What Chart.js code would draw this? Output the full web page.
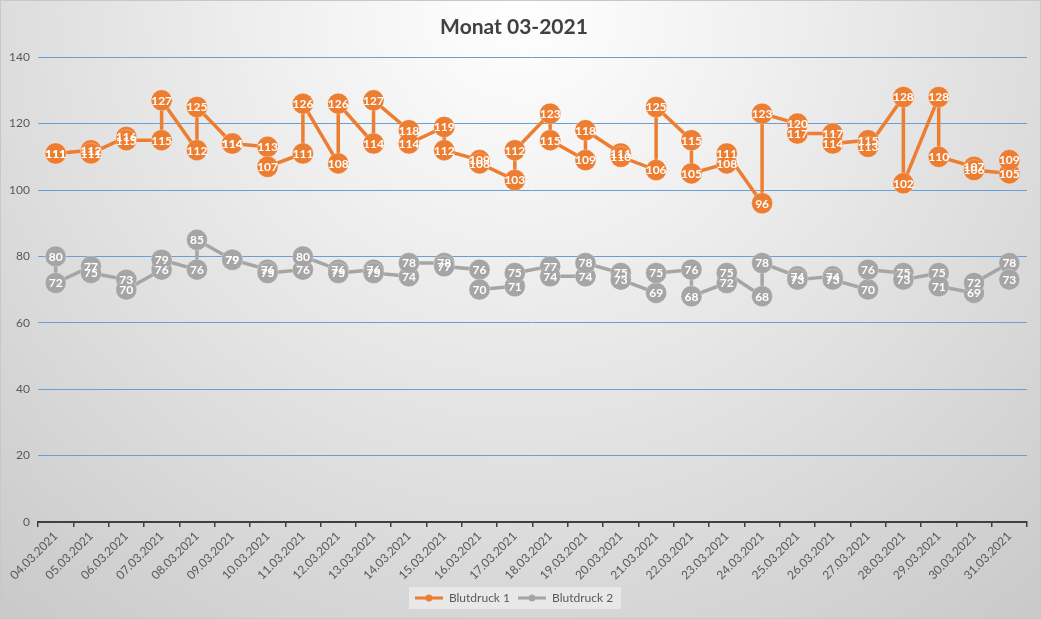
<!DOCTYPE html>
<html>
<head>
<meta charset="utf-8">
<script src="https://cdn.jsdelivr.net/npm/chart.js@4/dist/chart.umd.min.js"></script>
<style>
  html, body { margin: 0; padding: 0; }
  #wrap {
    width: 1041px; height: 619px; box-sizing: border-box;
    border: 1px solid #c8c8c8;
    background: radial-gradient(circle farthest-corner at 50% 0%, #ffffff 0%, #f1f1f1 28%, #c9c9c9 100%);
  }
  canvas { display: block; }
</style>
</head>
<body>
<div id="wrap"><canvas id="chart" width="1039" height="617"></canvas></div>
<script>
const dates = ['04.03.2021', '05.03.2021', '06.03.2021', '07.03.2021', '08.03.2021', '09.03.2021',
  '10.03.2021', '11.03.2021', '12.03.2021', '13.03.2021', '14.03.2021', '15.03.2021', '16.03.2021',
  '17.03.2021', '18.03.2021', '19.03.2021', '20.03.2021', '21.03.2021', '22.03.2021', '23.03.2021',
  '24.03.2021', '25.03.2021', '26.03.2021', '27.03.2021', '28.03.2021', '29.03.2021', '30.03.2021',
  '31.03.2021'];

// two readings per day, in the order they were taken
const blutdruck1 = [111, 111, 112, 111, 116, 115, 115, 127, 112, 125, 114, 114, 113, 107,
  111, 126, 108, 126, 114, 127, 118, 114, 119, 112, 109, 108, 103, 112, 123, 115, 109, 118,
  111, 110, 106, 125, 115, 105, 108, 111, 96, 123, 120, 117, 117, 114, 115, 113, 128, 102,
  128, 110, 107, 106, 105, 109];
const blutdruck2 = [80, 72, 77, 75, 73, 70, 76, 79, 76, 85, 79, 79, 76, 75, 76, 80, 76, 75,
  76, 75, 74, 78, 78, 77, 76, 70, 71, 75, 77, 74, 74, 78, 75, 73, 69, 75, 76, 68, 72, 75,
  68, 78, 74, 73, 74, 73, 70, 76, 75, 73, 75, 71, 69, 72, 78, 73];

const yTicks = [0, 20, 40, 60, 80, 100, 120, 140];

const orange = '#ED7D31';
const grey = '#A5A5A5';
const textGrey = '#595959';

Chart.defaults.font.family = 'Lato, "Open Sans", sans-serif';

// pair every reading with its day
function toPoints(values) {
  return values.map((v, i) => ({ x: dates[Math.floor(i / 2)], y: v }));
}

// legend marker: short line with a dot
function legendMarker(color) {
  const c = document.createElement('canvas');
  c.width = 28;
  c.height = 10;
  const g = c.getContext('2d');
  g.strokeStyle = color;
  g.lineWidth = 3;
  g.beginPath();
  g.moveTo(0, 5);
  g.lineTo(28, 5);
  g.stroke();
  g.fillStyle = color;
  g.beginPath();
  g.arc(14, 5, 3.5, 0, Math.PI * 2);
  g.fill();
  return c;
}

// white value text centred on each marker
const valueLabels = {
  id: 'valueLabels',
  afterDatasetsDraw(chart) {
    const ctx = chart.ctx;
    ctx.save();
    ctx.font = 'bold 12px Lato, "Open Sans", sans-serif';
    ctx.fillStyle = '#ffffff';
    ctx.textAlign = 'center';
    ctx.textBaseline = 'middle';
    chart.data.datasets.forEach((ds, di) => {
      chart.getDatasetMeta(di).data.forEach((pt, i) => {
        ctx.fillText(String(ds.data[i].y), pt.x, pt.y + 0.5);
      });
    });
    ctx.restore();
  }
};

// light box behind the legend entries
const legendBox = {
  id: 'legendBox',
  beforeDraw(chart) {
    const boxes = chart.legend && chart.legend.legendHitBoxes;
    if (!boxes || !boxes.length) return;
    const first = boxes[0];
    const last = boxes[boxes.length - 1];
    const ctx = chart.ctx;
    ctx.save();
    ctx.fillStyle = 'rgba(235,235,235,0.85)';
    ctx.fillRect(first.left - 6, first.top - 5, last.left + last.width - first.left + 14, first.height + 10);
    ctx.restore();
  }
};

const ctx = document.getElementById('chart').getContext('2d');
new Chart(ctx, {
  type: 'line',
  data: {
    labels: dates,
    datasets: [
      {
        label: 'Blutdruck 1',
        data: toPoints(blutdruck1),
        borderColor: orange,
        backgroundColor: orange,
        borderWidth: 3.5,
        pointStyle: 'circle',
        pointRadius: 10.5,
        pointBackgroundColor: orange,
        pointBorderColor: 'rgba(255,255,255,0.25)',
        pointBorderWidth: 1
      },
      {
        label: 'Blutdruck 2',
        data: toPoints(blutdruck2),
        borderColor: grey,
        backgroundColor: grey,
        borderWidth: 3.5,
        pointStyle: 'circle',
        pointRadius: 10.5,
        pointBackgroundColor: grey,
        pointBorderColor: 'rgba(255,255,255,0.25)',
        pointBorderWidth: 1
      }
    ]
  },
  options: {
    responsive: false,
    animation: false,
    layout: { padding: { left: 0, right: 13, top: 0, bottom: 4 } },
    plugins: {
      title: {
        display: true,
        text: 'Monat 03-2021',
        color: '#404040',
        font: { size: 21, weight: 'bold' },
        padding: { top: 14, bottom: 17 }
      },
      legend: {
        position: 'bottom',
        labels: {
          color: textGrey,
          font: { size: 12 },
          usePointStyle: true,
          pointStyleWidth: 28,
          padding: 8,
          generateLabels(chart) {
            return chart.data.datasets.map((ds, i) => ({
              text: ds.label,
              fontColor: textGrey,
              pointStyle: legendMarker(i === 0 ? orange : grey),
              datasetIndex: i,
              lineWidth: 0,
              strokeStyle: 'transparent',
              fillStyle: 'transparent'
            }));
          }
        }
      },
      tooltip: { enabled: false }
    },
    scales: {
      x: {
        type: 'category',
        offset: true,
        grid: {
          offset: true,
          drawOnChartArea: false,
          drawTicks: true,
          tickLength: 5,
          color: '#404040',
          lineWidth: 1.5
        },
        border: { display: true, color: '#404040', width: 2 },
        ticks: {
          color: textGrey,
          font: { size: 12 },
          minRotation: 45,
          maxRotation: 45,
          autoSkip: false,
          padding: 2
        },
        afterFit(scale) { scale.height = 62; }
      },
      y: {
        min: 0,
        max: 140,
        afterBuildTicks(scale) { scale.ticks = yTicks.map(v => ({ value: v })); },
        grid: { color: '#6A9FD4', lineWidth: 1, drawTicks: false },
        border: { display: false },
        ticks: { color: textGrey, font: { size: 12 }, padding: 8 },
        afterFit(scale) { scale.width = 37; }
      }
    }
  },
  plugins: [legendBox, valueLabels]
});
</script>
</body>
</html>
